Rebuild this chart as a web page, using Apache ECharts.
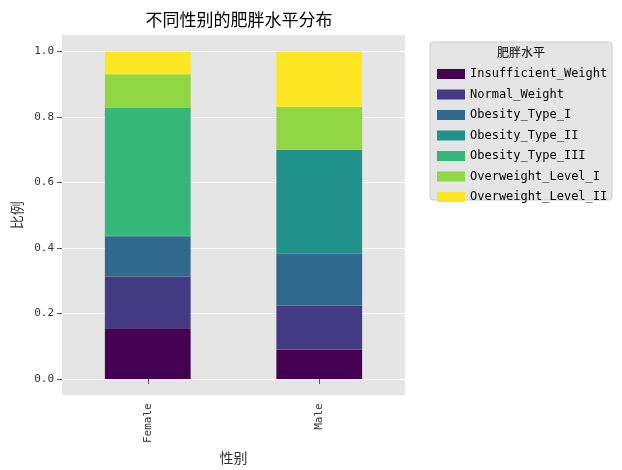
<!DOCTYPE html><html><head><meta charset="utf-8"><script src="https://cdn.jsdelivr.net/npm/echarts@6/dist/echarts.min.js"></script></head><body style="margin:0"><div id="c" style="width:622px;height:470px"></div><script>
const categories=['Female','Male'];
const seriesNames=['Insufficient_Weight','Normal_Weight','Obesity_Type_I','Obesity_Type_II','Obesity_Type_III','Overweight_Level_I','Overweight_Level_II'];
const female=[0.155,0.158,0.123,0.002,0.391,0.101,0.070];
const male=[0.090,0.134,0.158,0.317,0.001,0.131,0.169];
const colors=['#440154','#443983','#31688e','#21918c','#35b779','#90d743','#fde725'];
const yTicks=[0,0.2,0.4,0.6,0.8,1.0];
const ch=echarts.init(document.getElementById('c'));
const ff='"Noto Sans CJK SC", sans-serif', mono='"DejaVu Sans Mono", monospace';
ch.setOption({animation:false,
title:{text:'不同性别的肥胖水平分布',left:234,top:6,textStyle:{fontFamily:ff,fontSize:17,fontWeight:'normal',color:'#000'},textAlign:'center'},
grid:{left:62,right:217,top:35,bottom:67,backgroundColor:'#e5e5e5',show:true,borderWidth:0},
legend:{orient:'vertical',left:432,top:63,itemWidth:28,itemHeight:10,itemGap:8.5,icon:'rect',
 textStyle:{fontFamily:mono,fontSize:12,color:'#000'},data:seriesNames},
graphic:[{type:'rect',shape:{x:430,y:42,width:182,height:158,r:3},style:{fill:'#e5e5e5',stroke:'#cccccc'},z:-1},
 {type:'text',x:521,y:46,style:{text:'肥胖水平',fontFamily:ff,fontSize:12,fill:'#000',textAlign:'center'}}],
xAxis:{type:'category',data:categories,name:'性别',nameLocation:'middle',nameGap:48,nameTextStyle:{fontFamily:ff,fontSize:14,color:'#333'},
 axisLine:{show:false},axisTick:{show:true,lineStyle:{color:'#555'},alignWithLabel:true},
 axisLabel:{rotate:90,fontFamily:mono,fontSize:11,color:'#333'}},
yAxis:{type:'value',min:-0.05,max:1.05,name:'比例',nameLocation:'middle',nameGap:38,nameTextStyle:{fontFamily:ff,fontSize:14,color:'#333'},
 axisLine:{show:false},axisTick:{show:true,customValues:yTicks,lineStyle:{color:'#555'}},
 axisLabel:{customValues:yTicks,formatter:v=>v.toFixed(1),fontFamily:mono,fontSize:11,color:'#333'},
 splitLine:{show:true,lineStyle:{color:'#fff',width:1}}},
series:seriesNames.map((n,i)=>({name:n,type:'bar',stack:'a',barWidth:'50%',itemStyle:{color:colors[i]},data:[female[i],male[i]]}))
});
</script></body></html>
